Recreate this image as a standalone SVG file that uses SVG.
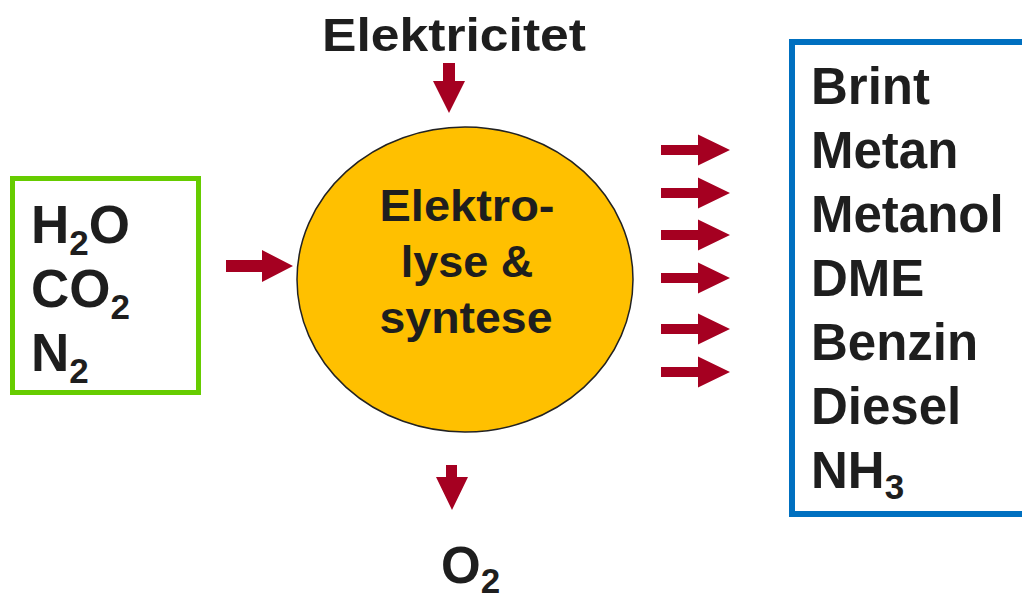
<svg xmlns="http://www.w3.org/2000/svg" width="1022" height="596" viewBox="0 0 1022 596">
<style>
.t{font-family:"Liberation Sans",Arial,sans-serif;font-weight:bold;fill:#1e1e1e;font-size:51px}
.in{font-size:53px}
.c{font-size:45px}
.sub{font-size:35px}
.arr{fill:#a50021}
</style>
<defs>
<polygon id="ra" points="0,-5 37,-5 37,-15.5 69,0 37,15.5 37,5 0,5"/>
</defs>
<rect width="1022" height="596" fill="#ffffff"/>
<g id="input-box">
<rect x="12.5" y="178.5" width="186" height="214" fill="#ffffff" stroke="#66cc00" stroke-width="5"/>
<text class="t in" x="31" y="243">H<tspan class="sub" dy="12">2</tspan><tspan dy="-12">O</tspan></text>
<text class="t in" x="31" y="307">CO<tspan class="sub" dy="12">2</tspan></text>
<text class="t in" x="31" y="371">N<tspan class="sub" dy="12">2</tspan></text>
</g>
<g id="process">
<ellipse cx="465" cy="279.5" rx="168" ry="152.5" fill="#ffc000" stroke="#222222" stroke-width="1.5"/>
<text class="t c" x="467" y="221" text-anchor="middle" textLength="175" lengthAdjust="spacingAndGlyphs">Elektro-</text>
<text class="t c" x="467" y="277" text-anchor="middle">lyse &amp;</text>
<text class="t c" x="466" y="333" text-anchor="middle" textLength="173" lengthAdjust="spacingAndGlyphs">syntese</text>
</g>
<g id="output-box">
<rect x="792" y="42" width="240" height="472" fill="#ffffff" stroke="#0070c0" stroke-width="6"/>
<text class="t" x="811" y="104">Brint</text>
<text class="t" x="811" y="168">Metan</text>
<text class="t" x="811" y="232">Metanol</text>
<text class="t" x="811" y="296">DME</text>
<text class="t" x="811" y="360">Benzin</text>
<text class="t" x="811" y="424">Diesel</text>
<text class="t" x="811" y="488">NH<tspan class="sub" dy="11">3</tspan></text>
</g>
<g id="electricity">
<text class="t" style="font-size:46px" x="322" y="51" textLength="264" lengthAdjust="spacingAndGlyphs">Elektricitet</text>
</g>
<g id="oxygen">
<text class="t" x="441" y="583">O<tspan class="sub" dy="10">2</tspan></text>
</g>
<g id="connectors">
<polygon class="arr" points="226,260 262,260 262,250 293,266 262,282 262,272 226,272"/>
<polygon class="arr" points="443,63 455,63 455,81 465,81 449,113 433,81 443,81"/>
<polygon class="arr" points="446,465 457,465 457,477 468,477 452,510 436,477 446,477"/>
<use href="#ra" class="arr" x="661" y="150"/>
<use href="#ra" class="arr" x="661" y="193"/>
<use href="#ra" class="arr" x="661" y="235"/>
<use href="#ra" class="arr" x="661" y="278"/>
<use href="#ra" class="arr" x="661" y="329"/>
<use href="#ra" class="arr" x="661" y="372"/>
</g>
</svg>
